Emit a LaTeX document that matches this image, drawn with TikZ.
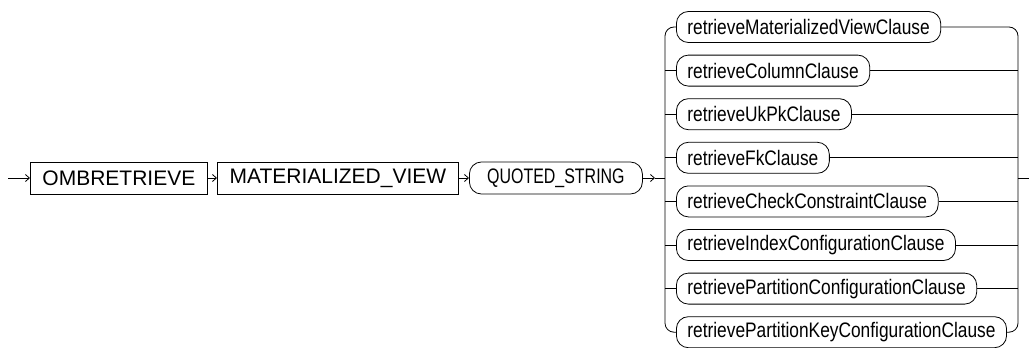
\documentclass[tikz,border=0pt]{standalone}
\usepackage{fontspec}
\usepackage{graphicx}
\setmainfont{Liberation Sans}
\newcommand{\narq}[1]{\scalebox{0.76}[1]{#1}}
\newcommand{\nart}[1]{\scalebox{0.825}[1]{#1}}
\usetikzlibrary{arrows.meta}
\begin{document}
\begin{tikzpicture}[x=1pt,y=-1pt,
  line width=0.8pt,
  kw/.style={draw, minimum height=32pt, inner xsep=0pt, inner ysep=0pt, anchor=west, font=\fontsize{21}{25}\selectfont},
  qstr/.style={draw, rounded corners=12pt, minimum height=32pt, inner xsep=0pt, inner ysep=0pt, anchor=west, font=\fontsize{21}{25}\selectfont},
  term/.style={draw, rounded corners=12pt, minimum height=31pt, inner xsep=11pt, inner ysep=0pt, anchor=west, font=\fontsize{21}{25}\selectfont},
  arr/.style={-{Straight Barb[length=4pt,width=7pt]}}
]
\useasboundingbox (0,0) rectangle (1029,348);
\coordinate (start) at (8,178);
\node[kw, minimum width=177pt] (omb) at (30,178) {OMBRETRIEVE};
\node[kw, minimum width=241pt] (mv) at (217,178) {MATERIALIZED\_VIEW};
\node[qstr, minimum width=173pt] (qs) at (469,178) {\narq{QUOTED\_STRING}};
\coordinate (qa) at (655,178);
\coordinate (sl) at (665,178);
\coordinate (rr) at (1018,178);
\coordinate (ex) at (1029,178);
\draw[arr] (start) -- (omb.west);
\draw[arr] (omb.east) -- (mv.west);
\draw[arr] (mv.east) -- (qs.west);
\draw[arr] (qs.east) -- (qa);
\draw (qa) -- (sl);
\node[term] (t1) at (676,27) {\nart{retrieveMaterializedViewClause}};
\node[term] (t2) at (676,70.6) {\nart{retrieveColumnClause}};
\node[term] (t3) at (676,114.2) {\nart{retrieveUkPkClause}};
\node[term] (t4) at (676,157.8) {\nart{retrieveFkClause}};
\node[term] (t5) at (676,201.4) {\nart{retrieveCheckConstraintClause}};
\node[term] (t6) at (676,245) {\nart{retrieveIndexConfigurationClause}};
\node[term] (t7) at (676,288.6) {\nart{retrievePartitionConfigurationClause}};
\node[term] (t8) at (676,332.2) {\nart{retrievePartitionKeyConfigurationClause}};
\draw[rounded corners=9pt] (t1.west) -| (sl);
\draw[rounded corners=9pt] (t8.west) -| (sl);
\draw[rounded corners=9pt] (t1.east) -| (rr);
\draw[rounded corners=9pt] (t8.east) -| (rr);
\foreach \i in {2,...,7} {
  \draw (t\i.west) -- (t\i.west -| sl);
  \draw (t\i.east) -- (t\i.east -| rr);
}
\draw (rr) -- (ex);
\end{tikzpicture}
\end{document}
